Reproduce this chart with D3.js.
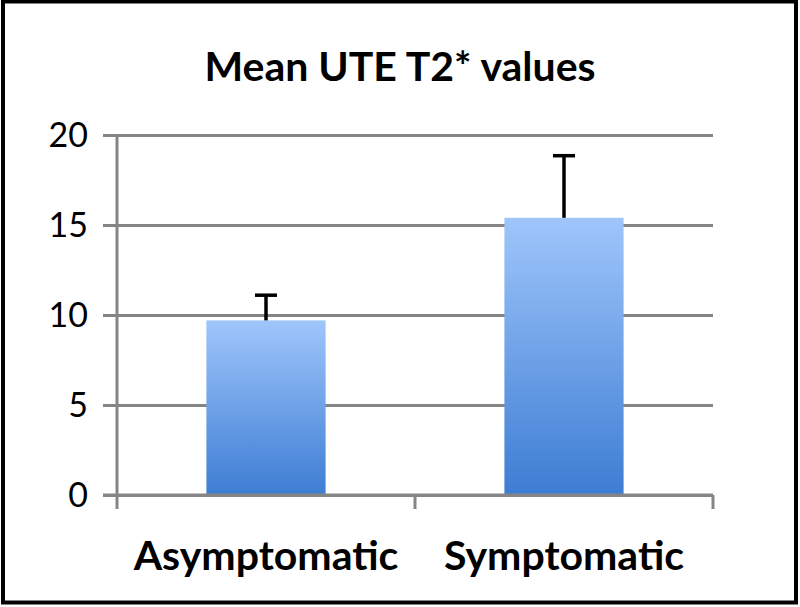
<!DOCTYPE html>
<html>
<head>
<meta charset="utf-8">
<script src="https://cdn.jsdelivr.net/npm/d3@7"></script>
<style>
  body { margin: 0; background: #fff; }
  svg { display: block; }
</style>
</head>
<body>
<div id="chart"></div>
<script>
// Chart data
const categories = ['Asymptomatic', 'Symptomatic'];
const meanValues = [9.7, 15.4];
const errorValues = [1.4, 3.45];
const yTicks = [0, 5, 10, 15, 20];

const width = 800, height = 607;
const margin = { top: 135, right: 87, bottom: 112, left: 117 };

const svg = d3.select('#chart')
    .append('svg')
    .attr('width', width)
    .attr('height', height);

// Gradient for the bars
const grad = svg.append('defs').append('linearGradient')
    .attr('id', 'barGrad')
    .attr('x1', 0).attr('y1', 0).attr('x2', 0).attr('y2', 1);
grad.append('stop').attr('offset', '0%').attr('stop-color', '#9fc6fb');
grad.append('stop').attr('offset', '100%').attr('stop-color', '#3d7dd3');

// Outer border
svg.append('rect')
    .attr('x', 3).attr('y', 1.5)
    .attr('width', width - 7).attr('height', height - 6)
    .attr('fill', 'none')
    .attr('stroke', '#000')
    .attr('stroke-width', 4);

const x = d3.scaleBand()
    .domain(categories)
    .range([margin.left, width - margin.right])
    .paddingInner(0.6)
    .paddingOuter(0.3);

const y = d3.scaleLinear()
    .domain([0, 20])
    .range([height - margin.bottom, margin.top]);

const font = 'Lato, "Open Sans", sans-serif';

// Title
svg.append('text')
    .attr('x', 400)
    .attr('y', 81)
    .attr('text-anchor', 'middle')
    .attr('font-family', font)
    .attr('font-weight', 'bold')
    .attr('font-size', 41)
    .text('Mean UTE T2* values');

// Gridlines and y ticks
const yAxis = svg.append('g')
    .attr('transform', `translate(${margin.left},0)`)
    .call(d3.axisLeft(y).tickValues(yTicks).tickSize(14).tickFormat(d3.format('d')));
yAxis.select('.domain').remove();
yAxis.selectAll('.tick line')
    .attr('stroke', '#858585')
    .attr('stroke-width', 3)
    .attr('x1', width - margin.right - margin.left);
yAxis.selectAll('.tick text')
    .attr('font-family', font)
    .attr('font-size', 34)
    .attr('fill', '#000')
    .attr('x', -29)
    .attr('dy', '0.35em');

// Y axis line
svg.append('line')
    .attr('x1', margin.left).attr('x2', margin.left)
    .attr('y1', y(20)).attr('y2', y(0))
    .attr('stroke', '#858585')
    .attr('stroke-width', 3);

// Bars
svg.append('g')
    .selectAll('rect')
    .data(meanValues)
    .enter().append('rect')
    .attr('x', (d, i) => x(categories[i]))
    .attr('y', d => y(d))
    .attr('width', x.bandwidth())
    .attr('height', d => y(0) - y(d))
    .attr('fill', 'url(#barGrad)');

// X axis with category separators
const bottom = y(0);
const bounds = [margin.left, (margin.left + width - margin.right) / 2, width - margin.right];
svg.append('line')
    .attr('x1', margin.left - 14).attr('x2', width - margin.right)
    .attr('y1', bottom).attr('y2', bottom)
    .attr('stroke', '#858585')
    .attr('stroke-width', 3);
svg.append('g')
    .selectAll('line')
    .data(bounds)
    .enter().append('line')
    .attr('x1', d => d).attr('x2', d => d)
    .attr('y1', bottom).attr('y2', bottom + 14)
    .attr('stroke', '#858585')
    .attr('stroke-width', 3);

// Error bars (upper only)
const err = svg.append('g')
    .selectAll('g')
    .data(meanValues)
    .enter().append('g');
err.append('line')
    .attr('x1', (d, i) => x(categories[i]) + x.bandwidth() / 2)
    .attr('x2', (d, i) => x(categories[i]) + x.bandwidth() / 2)
    .attr('y1', d => y(d))
    .attr('y2', (d, i) => y(d + errorValues[i]))
    .attr('stroke', '#000')
    .attr('stroke-width', 3.5);
err.append('line')
    .attr('x1', (d, i) => x(categories[i]) + x.bandwidth() / 2 - 11)
    .attr('x2', (d, i) => x(categories[i]) + x.bandwidth() / 2 + 11)
    .attr('y1', (d, i) => y(d + errorValues[i]))
    .attr('y2', (d, i) => y(d + errorValues[i]))
    .attr('stroke', '#000')
    .attr('stroke-width', 3.5);

// Category labels
svg.append('g')
    .selectAll('text')
    .data(categories)
    .enter().append('text')
    .attr('x', d => x(d) + x.bandwidth() / 2)
    .attr('y', 570)
    .attr('text-anchor', 'middle')
    .attr('font-family', font)
    .attr('font-weight', 'bold')
    .attr('font-size', 41)
    .text(d => d);
</script>
</body>
</html>
